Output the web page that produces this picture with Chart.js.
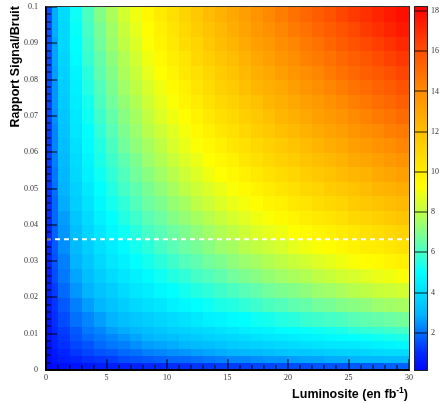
<!DOCTYPE html>
<html>
<head>
<meta charset="utf-8">
<script src="https://cdn.jsdelivr.net/npm/chart.js@4.4.1/dist/chart.umd.min.js"></script>
<style>
  html, body { margin: 0; padding: 0; background: #fff; }
  #wrap { width: 439px; height: 403px; }
</style>
</head>
<body>
<div id="wrap"><canvas id="chart" width="439" height="403"></canvas></div>
<script>
// bin edges of the 2D histogram (finer where the map changes fast)
const lumiEdges = [0, 0.5, 1, 2, 3, 4, 5, 6, 7, 8, 9, 10, 11, 12, 13, 14, 15,
  16, 17, 18, 19, 20, 21, 22, 23, 24, 25, 26, 27, 28, 29, 30];
const ratioEdges = [0, 0.002, 0.004, 0.006, 0.008, 0.010, 0.012, 0.016, 0.020, 0.024, 0.028,
  0.032, 0.036, 0.040, 0.044, 0.048, 0.052, 0.056, 0.060, 0.064, 0.068, 0.072, 0.076, 0.080,
  0.084, 0.088, 0.092, 0.096, 0.100];

// significance, one row per signal/background bin (bottom row first)
const significance = [
  [0.2, 0.3, 0.4, 0.5, 0.6, 0.7, 0.8, 0.8, 0.9, 1.0, 1.0, 1.1, 1.1, 1.2, 1.2, 1.3, 1.3, 1.3, 1.4, 1.4, 1.5, 1.5, 1.5, 1.6, 1.6, 1.6, 1.7, 1.7, 1.7, 1.8, 1.8],
  [0.3, 0.5, 0.7, 0.9, 1.1, 1.2, 1.3, 1.5, 1.6, 1.7, 1.8, 1.9, 1.9, 2.0, 2.1, 2.2, 2.3, 2.3, 2.4, 2.5, 2.5, 2.6, 2.7, 2.7, 2.8, 2.8, 2.9, 3.0, 3.0, 3.1, 3.1],
  [0.4, 0.6, 0.9, 1.2, 1.4, 1.6, 1.7, 1.9, 2.0, 2.2, 2.3, 2.4, 2.5, 2.6, 2.7, 2.8, 2.9, 3.0, 3.1, 3.2, 3.3, 3.4, 3.4, 3.5, 3.6, 3.7, 3.7, 3.8, 3.9, 4.0, 4.0],
  [0.4, 0.8, 1.1, 1.4, 1.6, 1.9, 2.1, 2.2, 2.4, 2.6, 2.7, 2.8, 3.0, 3.1, 3.2, 3.3, 3.5, 3.6, 3.7, 3.8, 3.9, 4.0, 4.1, 4.2, 4.3, 4.3, 4.4, 4.5, 4.6, 4.7, 4.8],
  [0.5, 0.9, 1.2, 1.6, 1.9, 2.1, 2.3, 2.5, 2.7, 2.9, 3.1, 3.2, 3.4, 3.5, 3.7, 3.8, 3.9, 4.0, 4.2, 4.3, 4.4, 4.5, 4.6, 4.7, 4.8, 4.9, 5.0, 5.1, 5.2, 5.3, 5.4],
  [0.5, 1.0, 1.3, 1.7, 2.1, 2.3, 2.6, 2.8, 3.0, 3.2, 3.4, 3.6, 3.7, 3.9, 4.0, 4.2, 4.3, 4.5, 4.6, 4.7, 4.9, 5.0, 5.1, 5.2, 5.3, 5.4, 5.6, 5.7, 5.8, 5.9, 6.0],
  [0.6, 1.1, 1.5, 2.0, 2.3, 2.6, 2.9, 3.2, 3.4, 3.6, 3.8, 4.0, 4.2, 4.4, 4.6, 4.7, 4.9, 5.0, 5.2, 5.3, 5.5, 5.6, 5.8, 5.9, 6.0, 6.1, 6.3, 6.4, 6.5, 6.6, 6.7],
  [0.7, 1.2, 1.7, 2.2, 2.6, 3.0, 3.3, 3.6, 3.9, 4.1, 4.3, 4.6, 4.8, 5.0, 5.2, 5.4, 5.5, 5.7, 5.9, 6.1, 6.2, 6.4, 6.5, 6.7, 6.8, 7.0, 7.1, 7.2, 7.4, 7.5, 7.6],
  [0.8, 1.3, 1.9, 2.5, 2.9, 3.3, 3.6, 4.0, 4.3, 4.5, 4.8, 5.0, 5.3, 5.5, 5.7, 5.9, 6.1, 6.3, 6.5, 6.7, 6.9, 7.0, 7.2, 7.4, 7.5, 7.7, 7.9, 8.0, 8.2, 8.3, 8.4],
  [0.8, 1.5, 2.1, 2.7, 3.2, 3.6, 4.0, 4.3, 4.6, 4.9, 5.2, 5.5, 5.7, 6.0, 6.2, 6.4, 6.7, 6.9, 7.1, 7.3, 7.5, 7.7, 7.8, 8.0, 8.2, 8.4, 8.5, 8.7, 8.9, 9.0, 9.2],
  [0.9, 1.6, 2.2, 2.9, 3.4, 3.9, 4.3, 4.6, 5.0, 5.3, 5.6, 5.9, 6.2, 6.4, 6.7, 6.9, 7.2, 7.4, 7.6, 7.8, 8.0, 8.2, 8.4, 8.6, 8.8, 9.0, 9.2, 9.4, 9.5, 9.7, 9.9],
  [1.0, 1.7, 2.4, 3.1, 3.6, 4.1, 4.5, 4.9, 5.3, 5.6, 6.0, 6.3, 6.6, 6.8, 7.1, 7.4, 7.6, 7.9, 8.1, 8.3, 8.5, 8.8, 9.0, 9.2, 9.4, 9.6, 9.8, 10.0, 10.1, 10.3, 10.5],
  [1.0, 1.8, 2.5, 3.2, 3.8, 4.3, 4.8, 5.2, 5.6, 6.0, 6.3, 6.6, 6.9, 7.2, 7.5, 7.8, 8.0, 8.3, 8.6, 8.8, 9.0, 9.3, 9.5, 9.7, 9.9, 10.1, 10.3, 10.5, 10.7, 10.9, 11.1],
  [1.1, 1.9, 2.6, 3.4, 4.0, 4.6, 5.0, 5.5, 5.9, 6.3, 6.6, 7.0, 7.3, 7.6, 7.9, 8.2, 8.5, 8.7, 9.0, 9.2, 9.5, 9.7, 10.0, 10.2, 10.4, 10.6, 10.9, 11.1, 11.3, 11.5, 11.7],
  [1.1, 1.9, 2.8, 3.6, 4.2, 4.8, 5.3, 5.7, 6.2, 6.6, 6.9, 7.3, 7.6, 8.0, 8.3, 8.6, 8.9, 9.1, 9.4, 9.7, 9.9, 10.2, 10.4, 10.7, 10.9, 11.1, 11.4, 11.6, 11.8, 12.0, 12.2],
  [1.2, 2.0, 2.9, 3.7, 4.4, 5.0, 5.5, 6.0, 6.4, 6.8, 7.2, 7.6, 8.0, 8.3, 8.6, 8.9, 9.2, 9.5, 9.8, 10.1, 10.4, 10.6, 10.9, 11.1, 11.4, 11.6, 11.8, 12.1, 12.3, 12.5, 12.7],
  [1.2, 2.1, 3.0, 3.9, 4.6, 5.2, 5.7, 6.2, 6.7, 7.1, 7.5, 7.9, 8.3, 8.6, 9.0, 9.3, 9.6, 9.9, 10.2, 10.5, 10.8, 11.0, 11.3, 11.6, 11.8, 12.1, 12.3, 12.5, 12.8, 13.0, 13.2],
  [1.3, 2.2, 3.1, 4.0, 4.7, 5.4, 5.9, 6.4, 6.9, 7.4, 7.8, 8.2, 8.6, 8.9, 9.3, 9.6, 9.9, 10.3, 10.6, 10.9, 11.2, 11.4, 11.7, 12.0, 12.2, 12.5, 12.8, 13.0, 13.2, 13.5, 13.7],
  [1.3, 2.3, 3.2, 4.1, 4.9, 5.5, 6.1, 6.7, 7.2, 7.6, 8.0, 8.5, 8.9, 9.2, 9.6, 9.9, 10.3, 10.6, 10.9, 11.2, 11.5, 11.8, 12.1, 12.4, 12.7, 12.9, 13.2, 13.4, 13.7, 13.9, 14.2],
  [1.3, 2.3, 3.3, 4.3, 5.0, 5.7, 6.3, 6.9, 7.4, 7.9, 8.3, 8.7, 9.1, 9.5, 9.9, 10.3, 10.6, 10.9, 11.3, 11.6, 11.9, 12.2, 12.5, 12.8, 13.1, 13.3, 13.6, 13.9, 14.1, 14.4, 14.6],
  [1.4, 2.4, 3.4, 4.4, 5.2, 5.9, 6.5, 7.1, 7.6, 8.1, 8.6, 9.0, 9.4, 9.8, 10.2, 10.6, 10.9, 11.3, 11.6, 11.9, 12.3, 12.6, 12.9, 13.2, 13.5, 13.7, 14.0, 14.3, 14.6, 14.8, 15.1],
  [1.4, 2.5, 3.5, 4.5, 5.3, 6.1, 6.7, 7.3, 7.8, 8.3, 8.8, 9.2, 9.7, 10.1, 10.5, 10.9, 11.2, 11.6, 11.9, 12.3, 12.6, 12.9, 13.2, 13.5, 13.8, 14.1, 14.4, 14.7, 15.0, 15.2, 15.5],
  [1.5, 2.5, 3.6, 4.6, 5.5, 6.2, 6.9, 7.5, 8.0, 8.5, 9.0, 9.5, 9.9, 10.4, 10.8, 11.2, 11.5, 11.9, 12.3, 12.6, 12.9, 13.3, 13.6, 13.9, 14.2, 14.5, 14.8, 15.1, 15.4, 15.6, 15.9],
  [1.5, 2.6, 3.7, 4.7, 5.6, 6.4, 7.0, 7.7, 8.2, 8.8, 9.3, 9.7, 10.2, 10.6, 11.0, 11.4, 11.8, 12.2, 12.6, 12.9, 13.3, 13.6, 13.9, 14.2, 14.6, 14.9, 15.2, 15.5, 15.7, 16.0, 16.3],
  [1.5, 2.7, 3.8, 4.9, 5.8, 6.5, 7.2, 7.8, 8.4, 9.0, 9.5, 10.0, 10.4, 10.9, 11.3, 11.7, 12.1, 12.5, 12.9, 13.2, 13.6, 13.9, 14.3, 14.6, 14.9, 15.2, 15.5, 15.8, 16.1, 16.4, 16.7],
  [1.6, 2.7, 3.9, 5.0, 5.9, 6.7, 7.4, 8.0, 8.6, 9.2, 9.7, 10.2, 10.7, 11.1, 11.6, 12.0, 12.4, 12.8, 13.2, 13.5, 13.9, 14.2, 14.6, 14.9, 15.3, 15.6, 15.9, 16.2, 16.5, 16.8, 17.1],
  [1.6, 2.8, 3.9, 5.1, 6.0, 6.8, 7.5, 8.2, 8.8, 9.4, 9.9, 10.4, 10.9, 11.4, 11.8, 12.2, 12.7, 13.1, 13.5, 13.8, 14.2, 14.6, 14.9, 15.3, 15.6, 15.9, 16.2, 16.6, 16.9, 17.2, 17.5],
  [1.6, 2.8, 4.0, 5.2, 6.1, 7.0, 7.7, 8.4, 9.0, 9.6, 10.1, 10.6, 11.1, 11.6, 12.1, 12.5, 12.9, 13.3, 13.7, 14.1, 14.5, 14.9, 15.2, 15.6, 15.9, 16.3, 16.6, 16.9, 17.2, 17.5, 17.8]
];

// white dashed reference line (signal/background)
const cutRatio = 0.036;

const lumiTicks = [0, 5, 10, 15, 20, 25, 30];
const ratioTicks = [0, 0.01, 0.02, 0.03, 0.04, 0.05, 0.06, 0.07, 0.08, 0.09, 0.1];
const zTicks = [2, 4, 6, 8, 10, 12, 14, 16, 18];

// rainbow palette stops (value -> rgb)
const paletteStops = [
  [0.0, [0, 0, 255]],
  [1.0, [0, 40, 255]],
  [1.7, [0, 90, 255]],
  [2.9, [0, 180, 255]],
  [3.7, [0, 210, 255]],
  [5.0, [0, 255, 255]],
  [6.4, [96, 255, 176]],
  [8.0, [190, 255, 70]],
  [9.3, [255, 255, 0]],
  [12.0, [255, 190, 0]],
  [14.0, [255, 140, 0]],
  [16.0, [255, 80, 0]],
  [18.2, [255, 0, 0]]
];

const colorFor = (v) => {
  if (v <= paletteStops[0][0]) return `rgb(${paletteStops[0][1].join(',')})`;
  for (let i = 1; i < paletteStops.length; i++) {
    const [v1, c1] = paletteStops[i];
    if (v <= v1) {
      const [v0, c0] = paletteStops[i - 1];
      const t = (v - v0) / (v1 - v0);
      const c = c0.map((a, k) => Math.round(a + (c1[k] - a) * t));
      return `rgb(${c.join(',')})`;
    }
  }
  return `rgb(${paletteStops[paletteStops.length - 1][1].join(',')})`;
};

const serif = '"Liberation Serif", "Times New Roman", serif';
const sans = '"Liberation Sans", Arial, Helvetica, sans-serif';

// keep the plot frame fixed: no extra room for half labels
const noOverflow = (s) => {
  s.paddingTop = 0; s.paddingBottom = 0;
  s.paddingLeft = 0; s.paddingRight = 0;
};

const heatmapPlugin = {
  id: 'heatmap',
  beforeDatasetsDraw(chart) {
    const { ctx, scales: { x, y } } = chart;
    ctx.save();
    significance.forEach((row, i) => {
      const top = Math.floor(y.getPixelForValue(ratioEdges[i + 1]));
      const bottom = Math.ceil(y.getPixelForValue(ratioEdges[i]));
      row.forEach((v, j) => {
        const left = Math.floor(x.getPixelForValue(lumiEdges[j]));
        const right = Math.ceil(x.getPixelForValue(lumiEdges[j + 1]));
        ctx.fillStyle = colorFor(v);
        ctx.fillRect(left, top, right - left, bottom - top);
      });
    });
    ctx.restore();
  },
  afterDatasetsDraw(chart) {
    const { ctx, chartArea: area, scales: { x, y, z } } = chart;
    ctx.save();
    ctx.fillStyle = '#000';
    // inward ticks on y
    for (let k = 0; k <= 50; k++) {
      const py = Math.round(y.getPixelForValue(k * 0.002));
      const len = k % 5 === 0 ? 11 : 5;
      ctx.fillRect(area.left, py - 0.5, len, 1);
    }
    // inward ticks on x
    for (let k = 0; k <= 30; k++) {
      const px = Math.round(x.getPixelForValue(k));
      const len = k % 5 === 0 ? 11 : 5;
      ctx.fillRect(px - 0.5, area.bottom - len, 1, len);
    }
    // frame
    ctx.fillRect(area.left - 1, area.top - 1, 2, area.bottom - area.top + 2);
    ctx.fillRect(area.left - 1, area.bottom - 1, area.right - area.left + 2, 2);
    ctx.fillStyle = '#333';
    ctx.fillRect(area.left, area.top - 1, area.right - area.left + 1, 1);
    ctx.fillRect(area.right, area.top - 1, 1, area.bottom - area.top + 1);

    // colour bar
    const barLeft = area.right + 6;
    const barWidth = 12;
    for (let py = Math.floor(z.top); py < Math.ceil(z.bottom); py++) {
      ctx.fillStyle = colorFor(z.getValueForPixel(py + 0.5));
      ctx.fillRect(barLeft, py, barWidth, 1);
    }
    ctx.fillStyle = 'rgba(0,0,0,0.85)';
    zTicks.forEach(v => {
      const py = Math.round(z.getPixelForValue(v));
      ctx.fillRect(barLeft, py - 0.5, barWidth, 1);
    });
    ctx.strokeStyle = '#222';
    ctx.lineWidth = 1;
    ctx.strokeRect(barLeft - 0.5, z.top - 0.5, barWidth + 1, z.bottom - z.top + 1);

    // axis titles
    ctx.fillStyle = '#000';
    const mainFont = `bold 12.5px ${sans}`;
    const supFont = `bold 8.5px ${sans}`;
    const xMain = 'Luminosite (en fb';
    const xSup = '-1';
    const xClose = ')';
    ctx.textBaseline = 'alphabetic';
    ctx.textAlign = 'left';
    ctx.font = mainFont;
    const wMain = ctx.measureText(xMain).width;
    const wClose = ctx.measureText(xClose).width;
    ctx.font = supFont;
    const wSup = ctx.measureText(xSup).width;
    const xEnd = area.right - 1;
    const base = 398;
    ctx.fillText(xSup, xEnd - wClose - wSup, base - 5);
    ctx.font = mainFont;
    ctx.fillText(xMain, xEnd - wClose - wSup - wMain, base);
    ctx.fillText(xClose, xEnd - wClose, base);

    ctx.translate(18.5, area.top - 1);
    ctx.rotate(-Math.PI / 2);
    ctx.textAlign = 'right';
    ctx.fillText('Rapport Signal/Bruit', 0, 0);
    ctx.restore();
  }
};

const tickFont = { family: serif, size: 8 };

new Chart(document.getElementById('chart'), {
  type: 'scatter',
  data: {
    datasets: [{
      data: [{ x: lumiTicks[0], y: cutRatio }, { x: lumiTicks[lumiTicks.length - 1], y: cutRatio }],
      showLine: true,
      borderColor: '#ffffff',
      borderWidth: 2,
      borderDash: [5, 4],
      pointRadius: 0,
      xAxisID: 'x',
      yAxisID: 'y'
    }]
  },
  options: {
    responsive: false,
    devicePixelRatio: 1,
    animation: false,
    layout: { padding: { top: 7, left: 0, right: 0, bottom: 0 }, autoPadding: false },
    plugins: { legend: { display: false }, tooltip: { enabled: false } },
    scales: {
      x: {
        type: 'linear', position: 'bottom', min: 0, max: 30,
        grid: { display: false, drawTicks: false }, border: { display: false },
        ticks: { font: tickFont, color: '#333', padding: 3, maxRotation: 0, callback: v => String(v) },
        afterBuildTicks: s => { s.ticks = lumiTicks.map(v => ({ value: v })); },
        afterFit: s => { s.height = 33; noOverflow(s); }
      },
      y: {
        type: 'linear', position: 'left', min: 0, max: 0.1,
        grid: { display: false, drawTicks: false }, border: { display: false },
        ticks: { font: tickFont, color: '#333', padding: 8, callback: v => String(+v.toFixed(3)) },
        afterBuildTicks: s => { s.ticks = ratioTicks.map(v => ({ value: v })); },
        afterFit: s => { s.width = 46; noOverflow(s); }
      },
      z: {
        type: 'linear', position: 'right', min: 0.15, max: 18.2,
        grid: { display: false, drawTicks: false }, border: { display: false },
        ticks: { font: tickFont, color: '#333', padding: 22, callback: v => String(v) },
        afterBuildTicks: s => { s.ticks = zTicks.map(v => ({ value: v })); },
        afterFit: s => { s.width = 30; noOverflow(s); }
      }
    }
  },
  plugins: [heatmapPlugin]
});
</script>
</body>
</html>
